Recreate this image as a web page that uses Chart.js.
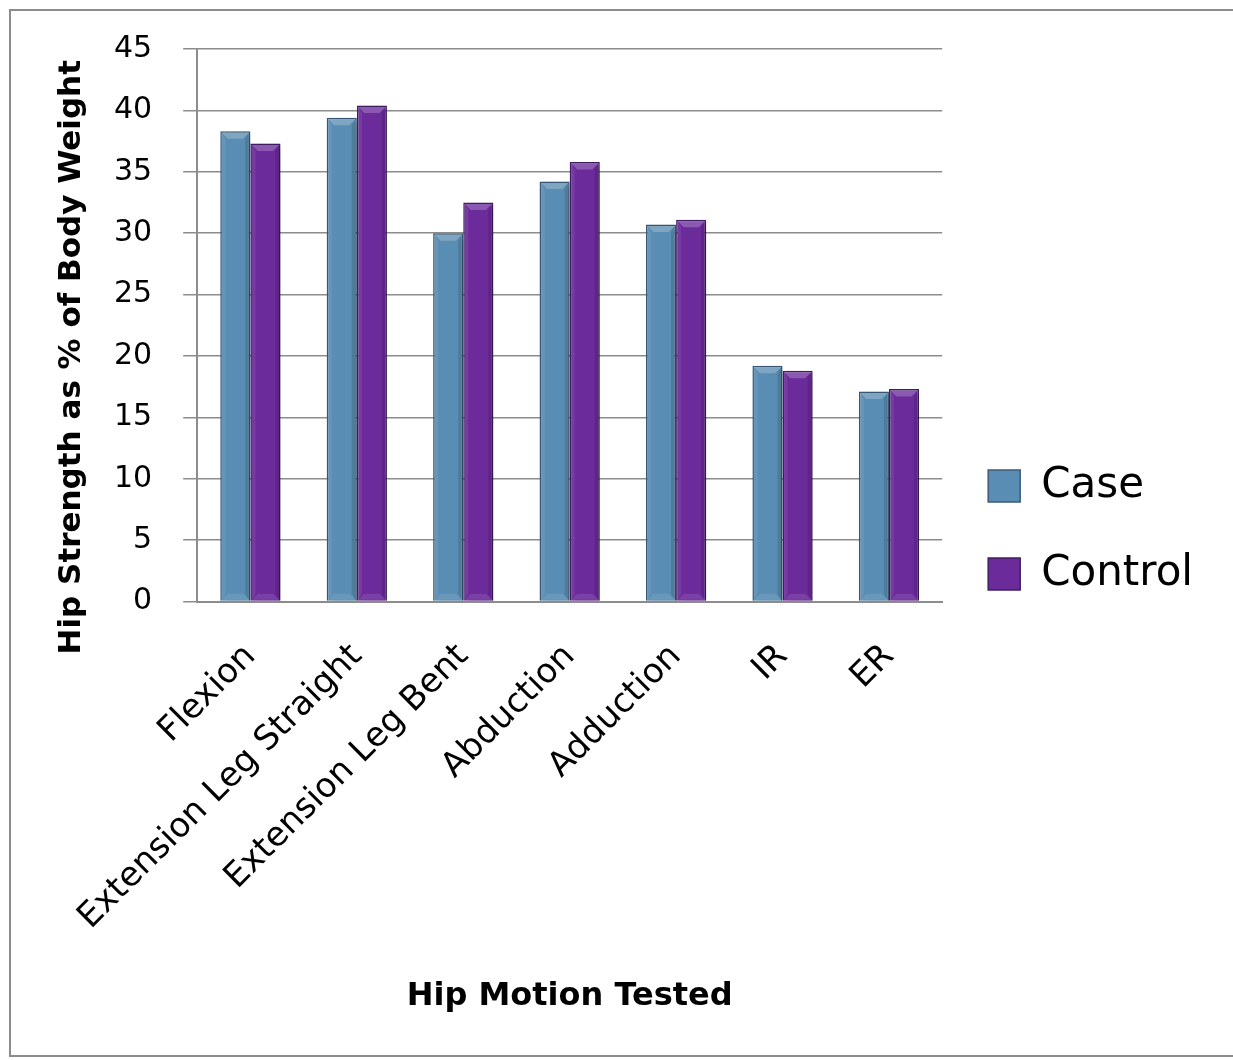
<!DOCTYPE html>
<html>
<head>
<meta charset="utf-8">
<title>Hip Strength</title>
<script src="https://cdn.jsdelivr.net/npm/chart.js@4.4.1/dist/chart.umd.min.js"></script>
<style>
  html, body { margin: 0; padding: 0; background: #fff; overflow: hidden; }
  #wrap { position: relative; width: 1233px; height: 1060px; }
  #frame {
    position: absolute; left: 9px; top: 9px; width: 1300px; height: 1048px;
    box-sizing: border-box; border: 2px solid #8c8c8c; pointer-events: none;
  }
  #chart { position: absolute; left: 0; top: 0; }
</style>
</head>
<body>
<div id="wrap">
  <canvas id="chart" width="1233" height="1060"></canvas>
  <div id="frame"></div>
</div>
<script>
const motions = ['Flexion', 'Extension Leg Straight', 'Extension Leg Bent', 'Abduction', 'Adduction', 'IR', 'ER'];
const caseValues = [38.3, 39.4, 30.0, 34.2, 30.7, 19.2, 17.1];
const controlValues = [37.3, 40.4, 32.5, 35.8, 31.1, 18.8, 17.3];
const yTitle = 'Hip Strength as % of Body Weight';
const xTitle = 'Hip Motion Tested';

const FONT = "'DejaVu Sans', sans-serif";
const GRID = '#8c8c8c';

// soft shadow behind every bar
const barShadow = {
  id: 'barShadow',
  beforeDatasetDraw(chart) {
    const c = chart.ctx;
    c.save();
    c.shadowColor = 'rgba(0,0,0,0.28)';
    c.shadowBlur = 7;
    c.shadowOffsetX = 3;
    c.shadowOffsetY = 3;
  },
  afterDatasetDraw(chart) {
    chart.ctx.restore();
  }
};

// bevelled edges on top of the bars
const bevel = {
  id: 'bevel',
  afterDatasetsDraw(chart) {
    const c = chart.ctx;
    chart.data.datasets.forEach((ds, i) => {
      chart.getDatasetMeta(i).data.forEach(bar => {
        const { x, y, base, width } = bar.getProps(['x', 'y', 'base', 'width'], true);
        const l = x - width / 2 + 1.5, r = x + width / 2 - 1.5;
        const t = y + 1.5, b = base - 1;
        const d = 6;
        c.save();
        // top face, lighter
        c.fillStyle = 'rgba(255,255,255,0.22)';
        c.beginPath();
        c.moveTo(l, t); c.lineTo(r, t); c.lineTo(r - d, t + d); c.lineTo(l + d, t + d);
        c.closePath(); c.fill();
        // left edge
        c.fillStyle = 'rgba(255,255,255,0.08)';
        c.beginPath();
        c.moveTo(l, t); c.lineTo(l + d * 0.6, t + d); c.lineTo(l + d * 0.6, b - d); c.lineTo(l, b);
        c.closePath(); c.fill();
        // right edge, darker
        c.fillStyle = 'rgba(0,0,0,0.12)';
        c.beginPath();
        c.moveTo(r, t); c.lineTo(r - d * 0.6, t + d); c.lineTo(r - d * 0.6, b - d); c.lineTo(r, b);
        c.closePath(); c.fill();
        // bottom edge
        c.fillStyle = 'rgba(255,255,255,0.10)';
        c.beginPath();
        c.moveTo(l, b); c.lineTo(r, b); c.lineTo(r - d, b - d); c.lineTo(l + d, b - d);
        c.closePath(); c.fill();
        c.restore();
      });
    });
  }
};

// vertical axis title, placed beside the tick labels
const sideTitle = {
  id: 'sideTitle',
  afterDraw(chart) {
    const c = chart.ctx;
    const area = chart.chartArea;
    c.save();
    c.translate(72, (area.top + area.bottom) / 2 + 32);
    c.rotate(-Math.PI / 2);
    c.font = 'bold 31px ' + FONT;
    c.fillStyle = '#000';
    c.textAlign = 'center';
    c.textBaseline = 'middle';
    c.fillText(yTitle, 0, 0);
    c.restore();
  }
};

new Chart(document.getElementById('chart'), {
  type: 'bar',
  data: {
    labels: motions,
    datasets: [
      {
        label: 'Case',
        data: caseValues,
        backgroundColor: '#5a8db3',
        borderColor: '#3b5a78',
        borderWidth: 1.5
      },
      {
        label: 'Control',
        data: controlValues,
        backgroundColor: '#6b2b9b',
        borderColor: '#3f1f62',
        borderWidth: 1.5
      }
    ]
  },
  options: {
    responsive: false,
    animation: false,
    datasets: {
      bar: { categoryPercentage: 0.566, barPercentage: 1.0 }
    },
    layout: {
      padding: { left: 83, top: 44, right: 30, bottom: 44 }
    },
    scales: {
      x: {
        grid: { display: false, drawTicks: false },
        border: { display: true, color: GRID, width: 2 },
        ticks: {
          color: '#000',
          font: { family: FONT, size: 34 },
          minRotation: 45,
          maxRotation: 45,
          padding: 35,
          autoSkip: false
        },
        title: {
          display: true,
          text: xTitle,
          color: '#000',
          font: { family: FONT, size: 32, weight: 'bold' },
          padding: { top: 5, bottom: 0 }
        }
      },
      y: {
        min: 0,
        max: 45,
        grid: { color: GRID, lineWidth: 1.5, tickLength: 14, tickColor: GRID },
        border: { display: true, color: GRID, width: 2 },
        ticks: {
          stepSize: 5,
          color: '#000',
          font: { family: FONT, size: 30 },
          padding: 31
        }
      }
    },
    plugins: {
      legend: {
        position: 'right',
        align: 'center',
        labels: {
          color: '#000',
          font: { family: FONT, size: 42 },
          boxWidth: 32,
          boxHeight: 32,
          padding: 46
        }
      },
      tooltip: { enabled: false }
    }
  },
  plugins: [barShadow, bevel, sideTitle]
});
</script>
</body>
</html>
